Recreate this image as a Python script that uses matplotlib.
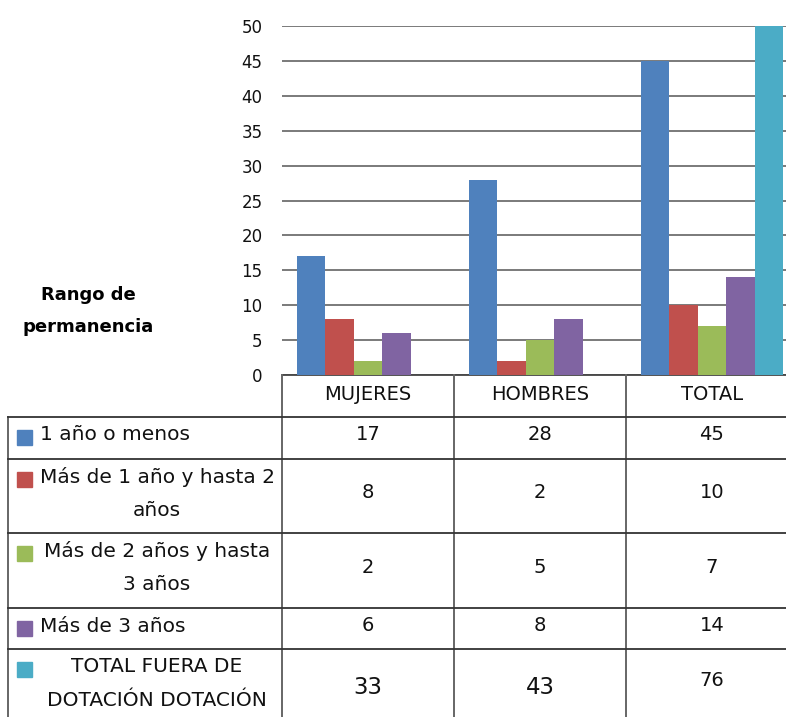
import matplotlib
matplotlib.use("Agg")
import matplotlib.pyplot as plt
import numpy as np

plt.rcParams['font.family'] = ['DejaVu Sans']

categories = ["MUJERES", "HOMBRES", "TOTAL"]
series_names = ["1 año o menos",
                "Más de 1 año y hasta 2\naños",
                "Más de 2 años y hasta\n3 años",
                "Más de 3 años",
                "TOTAL FUERA DE\nDOTACIÓN DOTACIÓN"]
s1 = [17, 28, 45]
s2 = [8, 2, 10]
s3 = [2, 5, 7]
s4 = [6, 8, 14]
s5_table = [33, 43, 76]
s5_bars = [np.nan, np.nan, 76]
colors = ["#4F81BD", "#C0504D", "#9BBB59", "#8064A2", "#4BACC6"]
y_ticks = [0, 5, 10, 15, 20, 25, 30, 35, 40, 45, 50]
y_label = ["Rango de", "permanencia"]

W, H = 786, 717
fig = plt.figure(figsize=(W / 100, H / 100), dpi=100)

# main chart axes (in pixel layout)
ax_l, ax_r, ax_t, ax_b = 282, 282 + 3 * 172, 26, 375
ax = fig.add_axes([ax_l / W, (H - ax_b) / H, (ax_r - ax_l) / W, (ax_b - ax_t) / H])
bar_series = [s1, s2, s3, s4, s5_bars]
x = np.arange(len(categories))
bw = 0.165
for i, (vals, c) in enumerate(zip(bar_series, colors)):
    ax.bar(x + (i - 2) * bw, vals, width=bw, color=c, zorder=3)
ax.set_xlim(-0.5, len(categories) - 0.5)
ax.set_ylim(0, 50)
ax.set_yticks(y_ticks)
ax.set_yticklabels([str(v) for v in y_ticks], fontsize=12, color="#111111")
ax.tick_params(axis='y', length=0, pad=14)
ax.set_xticks([])
ax.grid(axis='y', color="#6f6f6f", linewidth=1.3, zorder=0)
for sp in ["left", "right", "top"]:
    ax.spines[sp].set_visible(False)
ax.spines["bottom"].set_color("#444444")
ax.spines["bottom"].set_linewidth(1.3)

# table axes (pixel coordinates)
tab = fig.add_axes([0, 0, 1, 1])
tab.set_xlim(0, W)
tab.set_ylim(H, 0)
tab.axis('off')
tab.patch.set_alpha(0)

# label on the left
tab.text(88, 295, y_label[0], ha='center', va='center', fontsize=13,
         fontweight='bold', color="black")
tab.text(88, 327, y_label[1], ha='center', va='center', fontsize=13,
         fontweight='bold', color="black")

line_c = "#333333"
row_bounds = [375, 417, 459, 533, 608, 649, 730]
col_bounds = [282, 454, 626, 798]
for cx in col_bounds[:3]:
    tab.plot([cx, cx], [375, 730], color="#666666", lw=1.4, clip_on=False)
tab.plot([8, 8], [417, 730], color="#666666", lw=1.4, clip_on=False)
for ry in row_bounds[1:6]:
    tab.plot([8, W + 5], [ry, ry], color=line_c, lw=1.3, clip_on=False)

# header
for j, cat in enumerate(categories):
    cx = (col_bounds[j] + col_bounds[j + 1]) / 2
    tab.text(cx, 394, cat, ha='center', va='center', fontsize=14, color="#111111")

table_vals = [s1, s2, s3, s4, s5_table]
for i in range(5):
    top, bot = row_bounds[i + 1], row_bounds[i + 2]
    if i == 4:
        bot = 717
    tab.add_patch(plt.Rectangle((17, top + 13), 15, 15, color=colors[i], clip_on=False))
    lines = series_names[i].split("\n")
    if len(lines) == 1:
        tab.text(40, top + 18, lines[0], ha='left', va='center', fontsize=14.5, color="#111111")
    else:
        for k, ln in enumerate(lines):
            tab.text(157, top + 18 + 33 * k, ln, ha='center', va='center',
                     fontsize=14.5, color="#111111")
    for j in range(3):
        cx = (col_bounds[j] + col_bounds[j + 1]) / 2
        v = table_vals[i][j]
        cy = (top + bot) / 2 - 3
        fs = 14
        if i == 4 and j < 2:
            fs = 16.5
            cy += 7
        tab.text(cx, cy, str(v), ha='center', va='center', fontsize=fs, color="#111111")

fig.savefig("out.png", dpi=100)
